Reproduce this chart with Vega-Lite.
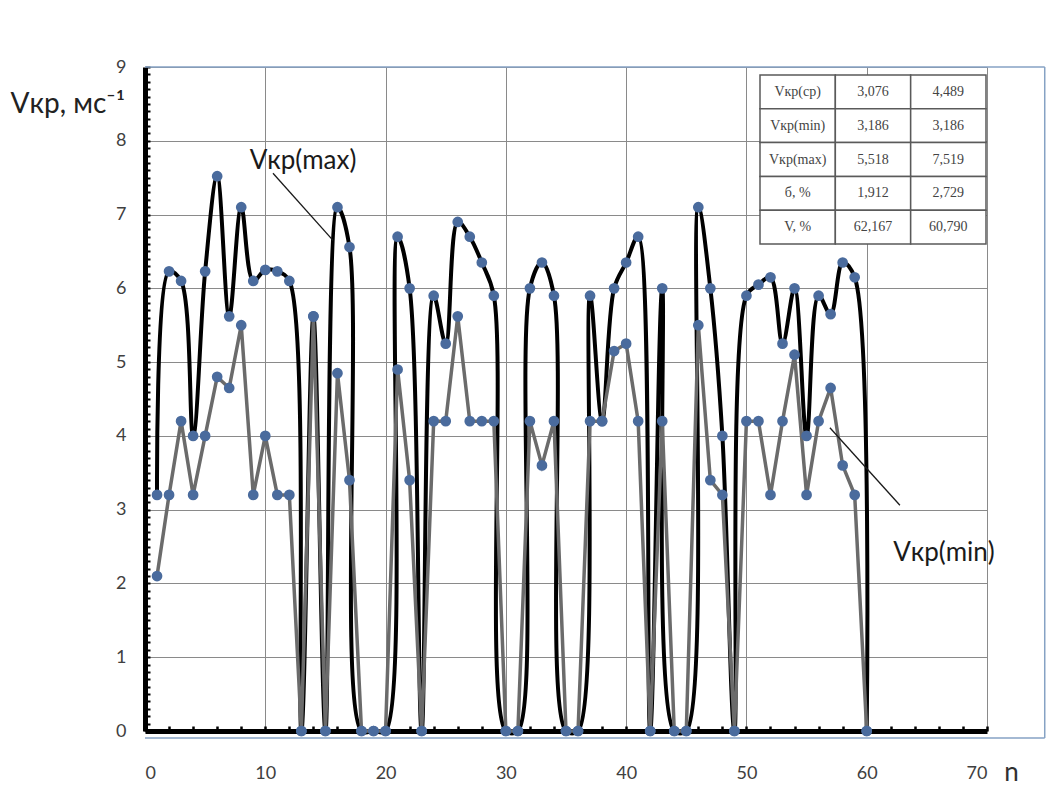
{
  "$schema": "https://vega.github.io/schema/vega-lite/v6.json",
  "width": 842,
  "height": 664,
  "autosize": "none",
  "padding": {"left": 145, "top": 67, "right": 68, "bottom": 54},
  "background": "white",
  "config": {
    "view": {"stroke": null},
    "font": "Lato"
  },
  "datasets": {
    "main": [
      {"n": 1, "vmax": 3.2, "vmin": 2.1},
      {"n": 2, "vmax": 6.23, "vmin": 3.2},
      {"n": 3, "vmax": 6.1, "vmin": 4.2},
      {"n": 4, "vmax": 4.0, "vmin": 3.2},
      {"n": 5, "vmax": 6.23, "vmin": 4.0},
      {"n": 6, "vmax": 7.52, "vmin": 4.8},
      {"n": 7, "vmax": 5.62, "vmin": 4.65},
      {"n": 8, "vmax": 7.1, "vmin": 5.5},
      {"n": 9, "vmax": 6.1, "vmin": 3.2},
      {"n": 10, "vmax": 6.25, "vmin": 4.0},
      {"n": 11, "vmax": 6.23, "vmin": 3.2},
      {"n": 12, "vmax": 6.1, "vmin": 3.2},
      {"n": 13, "vmax": 0, "vmin": 0},
      {"n": 14, "vmax": 5.62, "vmin": 5.62},
      {"n": 15, "vmax": 0, "vmin": 0},
      {"n": 16, "vmax": 7.1, "vmin": 4.85},
      {"n": 17, "vmax": 6.56, "vmin": 3.4},
      {"n": 18, "vmax": 0, "vmin": 0},
      {"n": 19, "vmax": 0, "vmin": 0},
      {"n": 20, "vmax": 0, "vmin": 0},
      {"n": 21, "vmax": 6.7, "vmin": 4.9},
      {"n": 22, "vmax": 6.0, "vmin": 3.4},
      {"n": 23, "vmax": 0, "vmin": 0},
      {"n": 24, "vmax": 5.9, "vmin": 4.2},
      {"n": 25, "vmax": 5.25, "vmin": 4.2},
      {"n": 26, "vmax": 6.9, "vmin": 5.62},
      {"n": 27, "vmax": 6.7, "vmin": 4.2},
      {"n": 28, "vmax": 6.35, "vmin": 4.2},
      {"n": 29, "vmax": 5.9, "vmin": 4.2},
      {"n": 30, "vmax": 0, "vmin": 0},
      {"n": 31, "vmax": 0, "vmin": 0},
      {"n": 32, "vmax": 6.0, "vmin": 4.2},
      {"n": 33, "vmax": 6.35, "vmin": 3.6},
      {"n": 34, "vmax": 5.9, "vmin": 4.2},
      {"n": 35, "vmax": 0, "vmin": 0},
      {"n": 36, "vmax": 0, "vmin": 0},
      {"n": 37, "vmax": 5.9, "vmin": 4.2},
      {"n": 38, "vmax": 4.2, "vmin": 4.2},
      {"n": 39, "vmax": 6.0, "vmin": 5.15},
      {"n": 40, "vmax": 6.35, "vmin": 5.25},
      {"n": 41, "vmax": 6.7, "vmin": 4.2},
      {"n": 42, "vmax": 0, "vmin": 0},
      {"n": 43, "vmax": 6.0, "vmin": 4.2},
      {"n": 44, "vmax": 0, "vmin": 0},
      {"n": 45, "vmax": 0, "vmin": 0},
      {"n": 46, "vmax": 7.1, "vmin": 5.5},
      {"n": 47, "vmax": 6.0, "vmin": 3.4},
      {"n": 48, "vmax": 4.0, "vmin": 3.2},
      {"n": 49, "vmax": 0, "vmin": 0},
      {"n": 50, "vmax": 5.9, "vmin": 4.2},
      {"n": 51, "vmax": 6.05, "vmin": 4.2},
      {"n": 52, "vmax": 6.15, "vmin": 3.2},
      {"n": 53, "vmax": 5.25, "vmin": 4.2},
      {"n": 54, "vmax": 6.0, "vmin": 5.1},
      {"n": 55, "vmax": 4.0, "vmin": 3.2},
      {"n": 56, "vmax": 5.9, "vmin": 4.2},
      {"n": 57, "vmax": 5.65, "vmin": 4.65},
      {"n": 58, "vmax": 6.35, "vmin": 3.6},
      {"n": 59, "vmax": 6.15, "vmin": 3.2},
      {"n": 60, "vmax": 0, "vmin": 0}
    ],
    "notes": [
      {"x": 8.7, "y": 7.62, "label": "Vкр(max)"},
      {"x": 62.2, "y": 2.31, "label": "Vкр(min)"}
    ],
    "leaders": [
      {"x1": 10.64, "y1": 7.56, "x2": 15.63, "y2": 6.65},
      {"x1": 56.94, "y1": 4.11, "x2": 62.76, "y2": 3.06}
    ],
    "frame": [
      {"x1": 0, "y1": 9, "x2": 74.8, "y2": 9},
      {"x1": 74.8, "y1": 9, "x2": 74.8, "y2": -0.095},
      {"x1": 0, "y1": -0.095, "x2": 74.8, "y2": -0.095}
    ],
    "table": [
      {"row": 1, "col": 1, "text": "Vкр(ср)"},
      {"row": 1, "col": 2, "text": "3,076"},
      {"row": 1, "col": 3, "text": "4,489"},
      {"row": 2, "col": 1, "text": "Vкр(min)"},
      {"row": 2, "col": 2, "text": "3,186"},
      {"row": 2, "col": 3, "text": "3,186"},
      {"row": 3, "col": 1, "text": "Vкр(max)"},
      {"row": 3, "col": 2, "text": "5,518"},
      {"row": 3, "col": 3, "text": "7,519"},
      {"row": 4, "col": 1, "text": "б, %"},
      {"row": 4, "col": 2, "text": "1,912"},
      {"row": 4, "col": 3, "text": "2,729"},
      {"row": 5, "col": 1, "text": "V, %"},
      {"row": 5, "col": 2, "text": "62,167"},
      {"row": 5, "col": 3, "text": "60,790"}
    ]
  },
  "layer": [
    {
      "layer": [
        {
          "data": {"name": "frame"},
          "mark": {"type": "rule", "color": "#86a2c4", "strokeWidth": 1.5},
          "encoding": {
            "x": {"field": "x1", "type": "quantitative", "scale": {"domain": [0, 70], "nice": false}},
            "y": {"field": "y1", "type": "quantitative", "scale": {"domain": [0, 9], "nice": false}},
            "x2": {"field": "x2"},
            "y2": {"field": "y2"}
          }
        },
        {
          "data": {"name": "main"},
          "mark": {"type": "line", "interpolate": "catmull-rom", "color": "#000000", "strokeWidth": 4},
          "encoding": {
            "x": {
              "field": "n", "type": "quantitative",
              "scale": {"domain": [0, 70], "nice": false},
              "axis": {
                "values": [0,2,4,6,8,10,12,14,16,18,20,22,24,26,28,30,32,34,36,38,40,42,44,46,48,50,52,54,56,58,60,62,64,66,68,70],
                "tickCount": 200,
                "format": "d",
                "labelExpr": "datum.value % 10 === 0 ? datum.label : ''",
                "labelOverlap": false,
                "labelFontSize": 18,
                "labelColor": "#404040",
                "labelFont": "Lato",
                "labelPadding": 38,
                "domainColor": "#000000",
                "domainWidth": 5,
                "tickColor": "#000000",
                "tickWidth": 2.5,
                "tickSize": -5,
                "grid": true,
                "gridColor": "#8a8a8a",
                "gridWidth": 1,
                "gridOpacity": {"condition": {"test": "datum.value % 10 === 0 && datum.value > 0", "value": 1}, "value": 0},
                "title": "n",
                "titleFont": "Lato",
                "titleFontSize": 26,
                "titleFontWeight": "normal",
                "titleColor": "#303030",
                "titleX": 866,
                "titleY": 49,
                "titleAlign": "center",
                "titleBaseline": "alphabetic"
              }
            },
            "y": {
              "field": "vmax", "type": "quantitative",
              "scale": {"domain": [0, 9], "nice": false},
              "axis": {
                "values": [0,0.1,0.2,0.3,0.4,0.5,0.6,0.7,0.8,0.9,1,1.1,1.2,1.3,1.4,1.5,1.6,1.7,1.8,1.9,2,2.1,2.2,2.3,2.4,2.5,2.6,2.7,2.8,2.9,3,3.1,3.2,3.3,3.4,3.5,3.6,3.7,3.8,3.9,4,4.1,4.2,4.3,4.4,4.5,4.6,4.7,4.8,4.9,5,5.1,5.2,5.3,5.4,5.5,5.6,5.7,5.8,5.9,6,6.1,6.2,6.3,6.4,6.5,6.6,6.7,6.8,6.9,7,7.1,7.2,7.3,7.4,7.5,7.6,7.7,7.8,7.9,8,8.1,8.2,8.3,8.4,8.5,8.6,8.7,8.8,8.9,9],
                "tickCount": 500,
                "labelExpr": "datum.value % 1 === 0 ? format(datum.value, 'd') : ''",
                "labelOverlap": false,
                "labelFontSize": 18,
                "labelColor": "#404040",
                "labelFont": "Lato",
                "labelPadding": 24,
                "domainColor": "#000000",
                "domainWidth": 5,
                "tickColor": "#000000",
                "tickWidth": 2,
                "tickSize": -5,
                "grid": true,
                "gridColor": "#8a8a8a",
                "gridWidth": 1,
                "gridOpacity": {"condition": {"test": "datum.value % 1 === 0 && datum.value > 0", "value": 1}, "value": 0},
                "title": "Vкр, мс⁻¹",
                "titleFont": "Lato",
                "titleFontSize": 28,
                "titleFontWeight": "normal",
                "titleColor": "#222222",
                "titleAngle": 0,
                "titleAlign": "left",
                "titleBaseline": "alphabetic",
                "titleX": -135,
                "titleY": 45
              }
            }
          }
        },
        {
          "data": {"name": "main"},
          "mark": {"type": "line", "interpolate": "linear", "color": "#6b6b6b", "strokeWidth": 3.5},
          "encoding": {
            "x": {"field": "n", "type": "quantitative"},
            "y": {"field": "vmin", "type": "quantitative"}
          }
        },
        {
          "data": {"name": "main"},
          "mark": {"type": "point", "filled": true, "color": "#4a6b9d", "size": 115, "opacity": 1},
          "encoding": {
            "x": {"field": "n", "type": "quantitative"},
            "y": {"field": "vmax", "type": "quantitative"}
          }
        },
        {
          "data": {"name": "main"},
          "mark": {"type": "point", "filled": true, "color": "#4a6b9d", "size": 115, "opacity": 1},
          "encoding": {
            "x": {"field": "n", "type": "quantitative"},
            "y": {"field": "vmin", "type": "quantitative"}
          }
        },
        {
          "data": {"name": "leaders"},
          "mark": {"type": "rule", "color": "#1a1a1a", "strokeWidth": 1.3},
          "encoding": {
            "x": {"field": "x1", "type": "quantitative"},
            "y": {"field": "y1", "type": "quantitative"},
            "x2": {"field": "x2"},
            "y2": {"field": "y2"}
          }
        },
        {
          "data": {"name": "notes"},
          "mark": {"type": "text", "align": "left", "baseline": "alphabetic", "font": "Lato", "fontSize": 26, "color": "#1a1a1a"},
          "encoding": {
            "x": {"field": "x", "type": "quantitative"},
            "y": {"field": "y", "type": "quantitative"},
            "text": {"field": "label"}
          }
        }
      ]
    },
    {
      "data": {"name": "table"},
      "layer": [
        {
          "mark": {"type": "rect", "fill": "white", "stroke": "#5a5a5a", "strokeWidth": 1.5},
          "encoding": {
            "x": {"field": "col", "type": "ordinal", "axis": null, "scale": {"range": [615, 841], "paddingInner": 0, "paddingOuter": 0}},
            "y": {"field": "row", "type": "ordinal", "axis": null, "scale": {"range": [8, 177], "paddingInner": 0, "paddingOuter": 0}}
          }
        },
        {
          "mark": {"type": "text", "font": "Liberation Serif", "fontSize": 14, "color": "#444444", "align": "center", "baseline": "middle"},
          "encoding": {
            "x": {"field": "col", "type": "ordinal", "axis": null, "band": 0.5},
            "y": {"field": "row", "type": "ordinal", "axis": null, "band": 0.5},
            "text": {"field": "text"}
          }
        }
      ]
    }
  ],
  "resolve": {"scale": {"x": "independent", "y": "independent"}}
}
